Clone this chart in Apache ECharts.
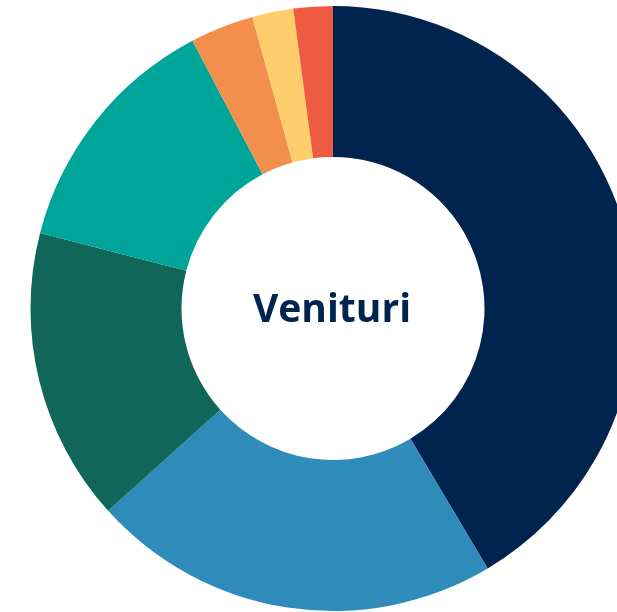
<!DOCTYPE html>
<html>
<head>
<meta charset="utf-8">
<script src="https://cdn.jsdelivr.net/npm/echarts@6/dist/echarts.min.js"></script>
<style>
  html, body { margin: 0; padding: 0; background: #fff; }
  #chart { width: 617px; height: 612px; }
</style>
</head>
<body>
<div id="chart"></div>
<script>
// categories and shares (%), clockwise from 12 o'clock
var categories = ['Sursa 1', 'Sursa 2', 'Sursa 3', 'Sursa 4', 'Sursa 5', 'Sursa 6', 'Sursa 7'];
var values = [41.5, 21.9, 15.7, 13.3, 3.4, 2.2, 2.1];
var colors = ['#01244f', '#2e8bba', '#11665a', '#00a599', '#f28f4c', '#fece6d', '#ef5b41'];
var centerTitle = 'Venituri';

var chart = echarts.init(document.getElementById('chart'));

chart.setOption({
  animation: false,
  graphic: [{
    type: 'text',
    x: 332,
    y: 311,
    style: {
      text: centerTitle,
      fontFamily: 'Open Sans',
      fontWeight: 'bold',
      fontSize: 39,
      fill: '#01244f',
      textAlign: 'center',
      textVerticalAlign: 'middle'
    },
    z: 10
  }],
  series: [{
    type: 'pie',
    center: [333, 308.5],
    radius: [151.5, 302.5],
    startAngle: 90,
    clockwise: true,
    label: { show: false },
    labelLine: { show: false },
    emphasis: { disabled: true },
    itemStyle: { borderWidth: 0 },
    data: categories.map(function (name, i) {
      return { name: name, value: values[i], itemStyle: { color: colors[i] } };
    })
  }]
});
</script>
</body>
</html>
